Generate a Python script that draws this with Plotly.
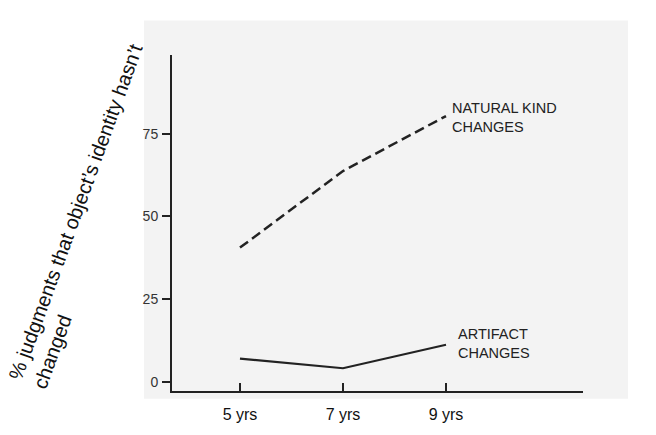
import plotly.graph_objects as go

# ---- data ----
ages = [5, 7, 9]
age_labels = ["5 yrs", "7 yrs", "9 yrs"]
natural_kind = [40.6, 63.7, 80.3]
artifact = [7.1, 4.2, 11.3]
y_ticks = [0, 25, 50, 75]

W, H = 656, 435
L, R, T, B = 172, 583, 55, 397  # plot area in pixels

def px(x):
    return (x - L) / (R - L)

def py(y):
    return (B - y) / (B - T)

ink = "#222222"
fig = go.Figure()
fig.add_trace(go.Scatter(x=ages, y=natural_kind, mode="lines",
                         line=dict(color=ink, width=2.5, dash="10px,5px"),
                         showlegend=False, hoverinfo="skip"))
fig.add_trace(go.Scatter(x=ages, y=artifact, mode="lines",
                         line=dict(color=ink, width=2.2),
                         showlegend=False, hoverinfo="skip"))

font_main = "Liberation Sans, Arial, sans-serif"

ann = [
    dict(text="NATURAL KIND<br>CHANGES", x=px(450), y=py(118.5)),
    dict(text="ARTIFACT<br>CHANGES", x=px(456), y=py(348.5)),
]
for a in ann:
    a.update(xref="paper", yref="paper", xanchor="left", yanchor="middle",
             align="left", showarrow=False,
             font=dict(family=font_main, size=14.5, color=ink))

ann.append(dict(text="% judgments that object\u2019s identity hasn\u2019t<br>changed",
                x=px(88), y=py(219), xref="paper", yref="paper",
                xanchor="center", yanchor="middle", align="left",
                textangle=-70, showarrow=False,
                font=dict(family=font_main, size=20, color="#111111")))

fig.update_layout(
    width=W, height=H,
    margin=dict(l=L, r=W - R, t=T, b=H - B, pad=0),
    paper_bgcolor="white",
    plot_bgcolor="rgba(0,0,0,0)",
    annotations=ann,
    shapes=[dict(type="rect", xref="paper", yref="paper",
                 x0=px(144), x1=px(628), y0=py(405), y1=py(20),
                 fillcolor="#f3f3f3", line=dict(width=0), layer="below")],
    xaxis=dict(range=[3.68, 11.66], tickvals=ages, ticktext=age_labels,
               showgrid=False, zeroline=False, showline=True, linecolor=ink, linewidth=2,
               ticks="inside", ticklen=8, tickwidth=2, tickcolor=ink,
               ticklabelstandoff=8,
               tickfont=dict(family=font_main, size=16, color="#111111")),
    yaxis=dict(range=[-2.67, 98.72], tickvals=y_ticks,
               showgrid=False, zeroline=False, showline=True, linecolor=ink, linewidth=2,
               ticks="outside", ticklen=8, tickwidth=1.5, tickcolor=ink,
               ticklabelstandoff=1,
               tickfont=dict(family=font_main, size=14, color="#333333")),
)

fig.write_html("out.html")
